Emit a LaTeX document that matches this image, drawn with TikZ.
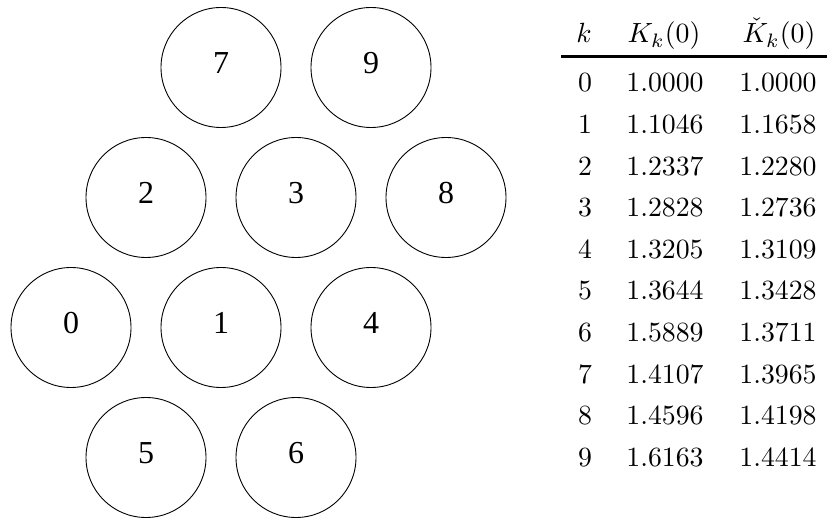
\documentclass[tikz,border=0pt]{standalone}
\usepackage[no-math]{fontspec}
\newfontfamily\timesfont{Liberation Serif}
\begin{document}
\begin{tikzpicture}[x=1pt,y=-1pt,
  disk/.style={draw,circle,line width=0.9pt,minimum size=120pt,inner sep=0pt},
  dlabel/.style={anchor=base,inner sep=0pt,font=\timesfont\fontsize{32}{32}\selectfont},
  cell/.style={anchor=base,inner sep=0pt,font=\normalsize,scale=2.78,transform shape}]
\useasboundingbox (0,0) rectangle (827,518);
% circles
\foreach \n/\cx/\cy in {7/221/67.5,9/371/67.5,2/146/197.5,3/296/197.5,8/446/197.5,0/71/327.5,1/221/327.5,4/371/327.5,5/146/457.5,6/296/457.5}{
  \node[disk] (c\n) at (\cx,\cy) {};
  \node[dlabel] (l\n) at (\cx,\cy+6) {\n};
}
% table header
\node[cell] (hk) at (584,43) {$k$};
\node[cell] (hK) at (664,43) {$K_k(0)$};
\node[cell] (hKc) at (779,43) {$\check{K}_k(0)$};
\coordinate (r1) at (561,56.5);
\coordinate (r2) at (827,56.5);
\draw[line width=3pt] (r1) -- (r2);
\foreach \i/\a/\b [count=\j from 0] in {0/1.0000/1.0000,1/1.1046/1.1658,2/1.2337/1.2280,3/1.2828/1.2736,4/1.3205/1.3109,5/1.3644/1.3428,6/1.5889/1.3711,7/1.4107/1.3965,8/1.4596/1.4198,9/1.6163/1.4414}{
  \node[cell] (k\i) at (585,92+41.6*\j) {$\i$};
  \node[cell] (a\i) at (665,92+41.6*\j) {$\a$};
  \node[cell] (b\i) at (778,92+41.6*\j) {$\b$};
}
\end{tikzpicture}
\end{document}
